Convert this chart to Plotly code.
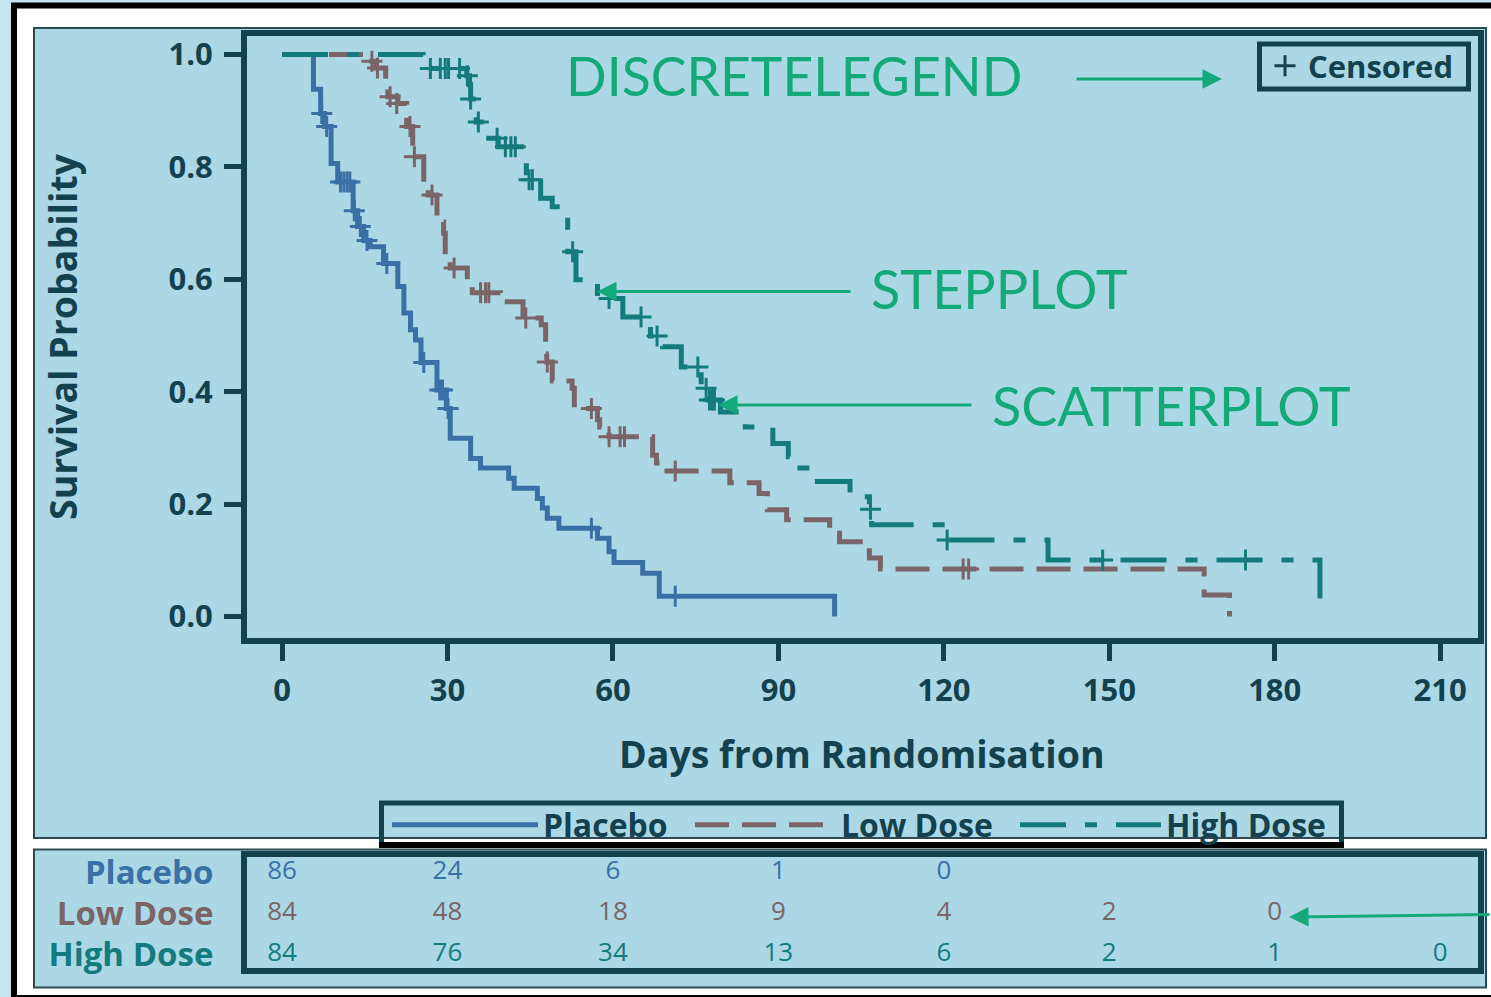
import plotly.graph_objects as go

W, H = 1491, 997
DARK = "#14414e"
PANEL = "#acd8e5"
GREEN = "#14a97a"
C_PLA = "#3a70a6"
C_LOW = "#7a6468"
C_HIGH = "#137b7c"
FONT = "Open Sans"
ANN_FONT = "Lato"

# ---------------- data ----------------
day_ticks = [0, 30, 60, 90, 120, 150, 180, 210]
surv_ticks = [0.0, 0.2, 0.4, 0.6, 0.8, 1.0]

placebo_t = [0, 5.7, 7.0, 7.7, 8.9, 10.1, 12.9, 13.7, 14.8, 16.0, 18.4, 21.0, 22.1, 23.3, 24.2, 25.2,
             28.1, 29.8, 30.5, 34.2, 36.0, 41.1, 42.1, 46.3, 47.2, 48.1, 50.2, 57.2, 59.3, 60.2, 65.4,
             68.4, 100.2]
placebo_s = [1.0, 0.938, 0.895, 0.872, 0.806, 0.773, 0.722, 0.694, 0.669, 0.658, 0.628, 0.587, 0.540,
             0.510, 0.492, 0.452, 0.403, 0.370, 0.317, 0.281, 0.264, 0.246, 0.228, 0.210, 0.193, 0.175,
             0.157, 0.139, 0.115, 0.096, 0.077, 0.036, 0.0]
placebo_cens_t = [7.2, 8.1, 10.6, 11.2, 11.8, 12.3, 13.1, 14.2, 15.4, 19.0, 25.7, 28.6, 29.1, 30.1, 56.1, 71.3]
placebo_cens_s = [0.895, 0.872, 0.773, 0.773, 0.773, 0.773, 0.722, 0.694, 0.669, 0.628, 0.452, 0.403,
                  0.403, 0.370, 0.157, 0.036]

low_t = [0, 15.5, 17.0, 18.8, 19.2, 21.0, 22.6, 23.7, 25.7, 26.5, 28.1, 29.3, 29.6, 30.5, 33.6, 34.5,
         39.6, 43.7, 47.0, 47.8, 48.0, 49.0, 52.6, 53.0, 57.2, 57.6, 59.3, 67.2, 67.9, 69.3, 81.2, 86.5,
         88.0, 91.5, 99.3, 101.1, 106.5, 108.5, 167.2, 171.8]
low_s = [1.0, 0.988, 0.976, 0.952, 0.925, 0.913, 0.872, 0.818, 0.765, 0.750, 0.702, 0.682, 0.634, 0.620,
         0.587, 0.576, 0.560, 0.531, 0.519, 0.468, 0.453, 0.419, 0.406, 0.370, 0.350, 0.337, 0.320, 0.287,
         0.273, 0.259, 0.238, 0.219, 0.190, 0.172, 0.148, 0.133, 0.104, 0.0845, 0.038, 0.0]
low_cens_t = [16.3, 17.3, 19.6, 20.8, 23.2, 24.0, 27.2, 31.2, 36.0, 36.9, 37.5, 44.2, 48.1, 56.1, 59.3,
              61.3, 62.1, 71.3, 123.5, 124.5]
low_cens_s = [0.988, 0.976, 0.925, 0.913, 0.872, 0.818, 0.750, 0.620, 0.576, 0.576, 0.576, 0.531, 0.453,
              0.370, 0.320, 0.320, 0.320, 0.259, 0.0845, 0.0845]

high_t = [0, 25.6, 33.5, 34.0, 34.2, 35.2, 36.8, 39.2, 44.3, 46.9, 49.0, 51.8, 53.3, 57.2, 61.8, 66.8,
          69.0, 72.4, 76.0, 77.2, 79.5, 84.0, 89.0, 91.8, 93.0, 96.5, 103.0, 106.5, 106.9, 120.3, 138.9,
          188.2]
high_s = [1.0, 0.975, 0.962, 0.946, 0.921, 0.880, 0.851, 0.836, 0.777, 0.744, 0.729, 0.649, 0.599, 0.566,
          0.533, 0.499, 0.480, 0.444, 0.406, 0.385, 0.364, 0.337, 0.308, 0.284, 0.264, 0.240, 0.213, 0.191,
          0.163, 0.136, 0.1005, 0.0]
high_cens_t = [26.9, 28.7, 29.6, 30.2, 32.2, 33.6, 34.2, 35.6, 39.0, 40.5, 41.5, 42.3, 44.8, 45.4, 52.7,
               59.3, 65.1, 68.0, 75.4, 76.9, 77.5, 78.0, 78.4, 106.7, 120.6, 148.8, 174.7]
high_cens_s = [0.975, 0.975, 0.975, 0.975, 0.975, 0.962, 0.921, 0.880, 0.851, 0.836, 0.836, 0.836, 0.777,
               0.777, 0.649, 0.566, 0.533, 0.499, 0.444, 0.406, 0.385, 0.385, 0.385, 0.191, 0.136, 0.1005,
               0.1005]

groups = ["Placebo", "Low Dose", "High Dose"]
risk_placebo = [86, 24, 6, 1, 0]
risk_low = [84, 48, 18, 9, 4, 2, 0]
risk_high = [84, 76, 34, 13, 6, 2, 1, 0]
risk_rows = [2, 1, 0]


def px(x):
    return x / W


def py(y):
    return 1 - y / H


fig = go.Figure()

series = [
    ("Placebo", placebo_t, placebo_s, placebo_cens_t, placebo_cens_s, C_PLA, "solid", "legend"),
    ("Low Dose", low_t, low_s, low_cens_t, low_cens_s, C_LOW, "34px,13px", "legend2"),
    ("High Dose", high_t, high_s, high_cens_t, high_cens_s, C_HIGH, "46px,19px,12px,19px", "legend3"),
]
for name, t, s, ct, cs, col, dash, leg in series:
    fig.add_trace(go.Scatter(x=t, y=s, mode="lines", name=name, legend=leg,
                             line=dict(shape="hv", color=col, width=5, dash=dash),
                             hoverinfo="skip"))
for name, t, s, ct, cs, col, dash, leg in series:
    fig.add_trace(go.Scatter(x=ct, y=cs, mode="markers", showlegend=False,
                             marker=dict(symbol="cross-thin", size=15, color=col,
                                         line=dict(width=3, color=col)),
                             hoverinfo="skip"))

# censored legend entry
fig.add_trace(go.Scatter(x=[None], y=[None], mode="markers", name="Censored", legend="legend4",
                         marker=dict(symbol="cross-thin", size=15, color=DARK,
                                     line=dict(width=3, color=DARK))))

# at-risk table
for risk, row, col in [(risk_placebo, 2, C_PLA), (risk_low, 1, C_LOW), (risk_high, 0, C_HIGH)]:
    fig.add_trace(go.Scatter(x=day_ticks[:len(risk)], y=[row] * len(risk), mode="text",
                             text=[str(v) for v in risk], xaxis="x2", yaxis="y2",
                             textfont=dict(family=FONT, size=26, color=col),
                             showlegend=False, hoverinfo="skip", cliponaxis=False))

XR = [-6.35, 216.86]
axis_common = dict(showline=True, mirror=True, linewidth=6, linecolor=DARK, showgrid=False,
                   zeroline=False, automargin=False)

shapes = [
    # outer frame
    dict(type="rect", xref="paper", yref="paper", x0=px(14), x1=px(1530), y0=py(5.5), y1=py(998),
         line=dict(color="black", width=6), fillcolor="white", layer="below"),
    # main panel
    dict(type="rect", xref="paper", yref="paper", x0=px(34), x1=px(1486), y0=py(28), y1=py(838),
         line=dict(color="#2b4a54", width=2), fillcolor=PANEL, layer="below"),
    # table panel
    dict(type="rect", xref="paper", yref="paper", x0=px(34), x1=px(1486), y0=py(849.5), y1=py(987.5),
         line=dict(color="#2b4a54", width=2), fillcolor=PANEL, layer="below"),
    # legend box
    dict(type="rect", xref="paper", yref="paper", x0=px(381.5), x1=px(1341.5), y0=py(803), y1=py(845),
         line=dict(color=DARK, width=5), fillcolor="rgba(0,0,0,0)", layer="above"),
    dict(type="line", xref="paper", yref="paper", x0=px(379), x1=px(1344), y0=py(845), y1=py(845),
         line=dict(color="black", width=6), layer="above"),
    # censored box
    dict(type="rect", xref="paper", yref="paper", x0=px(1259.5), x1=px(1468.5), y0=py(44), y1=py(89),
         line=dict(color=DARK, width=5), fillcolor="rgba(0,0,0,0)", layer="above"),
]


def arrow(x_head, y_head, x_tail, y_tail):
    return dict(x=px(x_head), y=py(y_head), xref="paper", yref="paper", text="", showarrow=True,
                ax=x_tail - x_head, ay=y_tail - y_head, axref="pixel", ayref="pixel",
                arrowhead=2, arrowsize=1.3, arrowwidth=3, arrowcolor=GREEN, standoff=0)


def label(text, x, y, size):
    return dict(x=px(x), y=py(y), xref="paper", yref="paper", text=text, showarrow=False,
                xanchor="left", yanchor="middle",
                font=dict(family=ANN_FONT, size=size, color=GREEN))


annotations = [
    dict(x=px(862), y=py(753), xref="paper", yref="paper", text="Days from Randomisation",
         showarrow=False, xanchor="center", yanchor="middle",
         font=dict(family=FONT, size=37.5, color=DARK, weight="bold")),
    dict(x=px(63), y=py(337), xref="paper", yref="paper", text="Survival Probability",
         showarrow=False, xanchor="center", yanchor="middle", textangle=-90,
         font=dict(family=FONT, size=37.5, color=DARK, weight="bold")),
    label("DISCRETELEGEND", 564, 75, 53.5),
    label("STEPPLOT", 869, 289, 54),
    label("SCATTERPLOT", 990, 406, 54),
    arrow(1222, 79, 1075, 79),
    arrow(597, 291.5, 852, 291.5),
    arrow(718, 405, 973, 405),
    arrow(1289, 917, 1491, 914.5),
]

legend_common = dict(orientation="h", xanchor="left", yanchor="middle", bgcolor="rgba(0,0,0,0)",
                     borderwidth=0, font=dict(family=FONT, size=32, color=DARK, weight="bold"))

fig.update_layout(
    width=W, height=H, margin=dict(l=0, r=0, t=0, b=0, autoexpand=False),
    paper_bgcolor="#c6e4f0", plot_bgcolor="rgba(0,0,0,0)",
    showlegend=True,
    xaxis=dict(domain=[px(247), px(1478)], range=XR, anchor="y", tickvals=day_ticks,
               ticks="outside", ticklen=17, tickwidth=5, tickcolor=DARK, ticklabelstandoff=3,
               tickfont=dict(family=FONT, size=31, color=DARK, weight="bold"), **axis_common),
    yaxis=dict(domain=[py(638), py(36)], range=[-0.0383, 1.0329], anchor="x", tickvals=surv_ticks,
               tickformat=".1f", ticks="outside", ticklen=17, tickwidth=5, tickcolor=DARK,
               ticklabelstandoff=5,
               tickfont=dict(family=FONT, size=31, color=DARK, weight="bold"), **axis_common),
    xaxis2=dict(domain=[px(247), px(1478)], range=XR, anchor="y2", showticklabels=False, ticks="",
                **axis_common),
    yaxis2=dict(domain=[py(968), py(857)], range=[-0.341, 2.366], anchor="x2", tickvals=risk_rows,
                ticktext=[f"<span style='color:{C_PLA}'>Placebo</span>",
                          f"<span style='color:{C_LOW}'>Low Dose</span>",
                          f"<span style='color:{C_HIGH}'>High Dose</span>"],
                ticks="", ticklabelstandoff=21,
                tickfont=dict(family=FONT, size=33, color=DARK, weight="bold"), **axis_common),
    legend=dict(x=px(387), y=py(825), itemwidth=146, **legend_common),
    legend2=dict(x=px(690), y=py(825), itemwidth=141, **legend_common),
    legend3=dict(x=px(1015), y=py(825), itemwidth=141, **legend_common),
    legend4=dict(x=px(1262), y=py(66), orientation="h", xanchor="left", yanchor="middle",
                 bgcolor="rgba(0,0,0,0)", borderwidth=0, itemwidth=36,
                 font=dict(family=FONT, size=31, color=DARK, weight="bold")),
    shapes=shapes,
    annotations=annotations,
)

fig.write_html("out.html", config={"displayModeBar": False})
